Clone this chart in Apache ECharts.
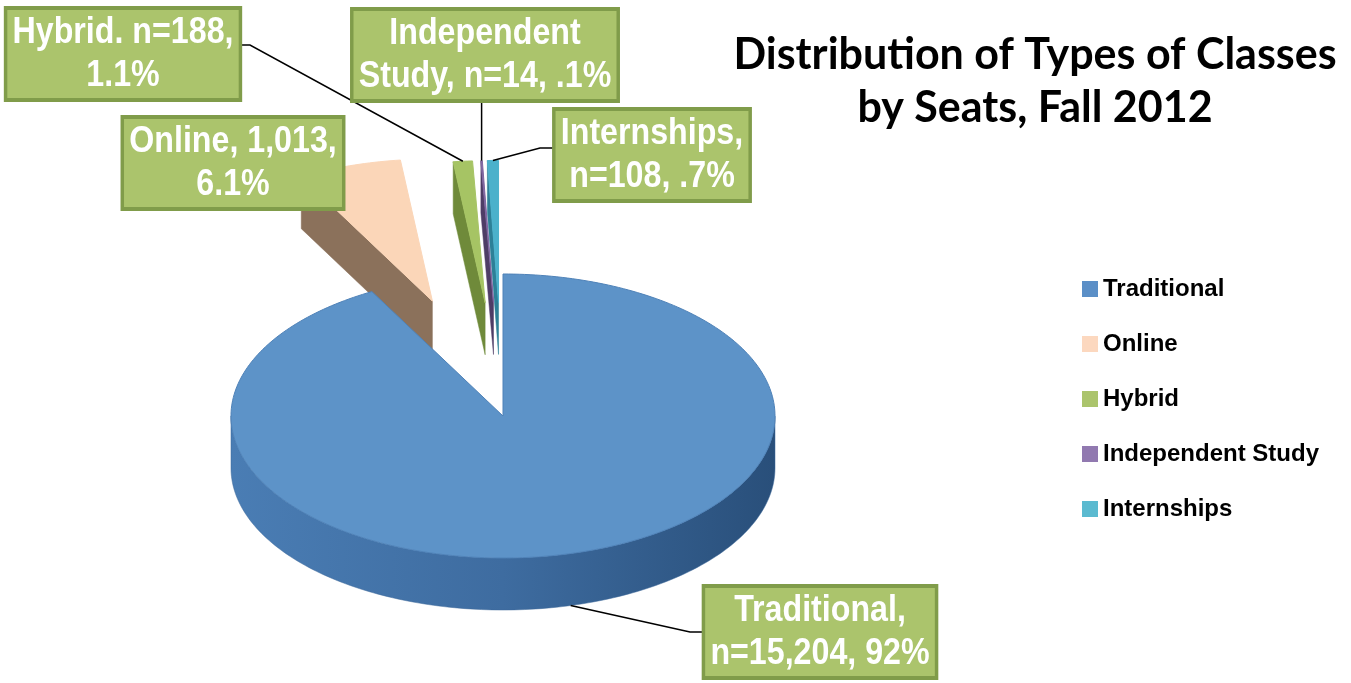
<!DOCTYPE html>
<html>
<head>
<meta charset="utf-8">
<script src="https://cdn.jsdelivr.net/npm/echarts@6/dist/echarts.min.js"></script>
<style>
  html, body { margin: 0; padding: 0; background: #fff; }
  #main { width: 1351px; height: 683px; }
</style>
</head>
<body>
<div id="main"></div>
<script>
// data
const categories = ['Traditional', 'Online', 'Hybrid', 'Independent Study', 'Internships'];
const seats = [15204, 1013, 188, 14, 108];
const labelTexts = [
  'Traditional,\nn=15,204, 92%',
  'Online, 1,013,\n6.1%',
  'Hybrid. n=188,\n1.1%',
  'Independent\nStudy, n=14, .1%',
  'Internships,\nn=108, .7%'
];

// layout / style
const PIE = { cx: 503, cy: 416, rx: 272, ry: 142, depth: 52 };
const explode = [0, 0.85, 0.8, 0.8, 0.8];
const topColors = ['#5d93c8', '#fbd6b8', '#a6c464', '#7f66a0', '#4bb1cb'];
const sideColors = ['#3f6ea3', '#8b715b', '#6f8a3a', '#4e3d66', '#2d8097'];
const legendColors = ['#5b8fc7', '#fcd8bf', '#abc46c', '#9179b0', '#5bbad0'];
const labelPos = [[820, 632], [233, 163], [123, 54], [485, 55], [652, 155]];
// leader: anchor on slice (h: 0 top face, 1 bottom rim), then points toward the box
const leaders = [
  { h: 1, pts: [[690, 632], [708, 632]] },
  null,
  { h: 0, pts: [[250, 45], [238, 45]] },
  { h: 0, vertical: 103 },
  { h: 0, pts: [[540, 148], [558, 148]] }
];
const labelFont = '"Liberation Sans", Arial, sans-serif';

const total = seats.reduce((a, b) => a + b, 0);
const bounds = [];
let acc = 0;
seats.forEach(v => {
  const s = acc / total * Math.PI * 2;
  acc += v;
  bounds.push([s, acc / total * Math.PI * 2]);
});

function buildSlice(i) {
  const [a0, a1] = bounds[i];
  const mid = (a0 + a1) / 2;
  const ox = explode[i] * Math.sin(mid);
  const oy = explode[i] * Math.cos(mid);
  const P = (t, r, h) => [
    PIE.cx + PIE.rx * (r * Math.sin(t) + ox),
    PIE.cy - PIE.ry * (r * Math.cos(t) + oy) + PIE.depth * h
  ];
  const arc = (t0, t1, h) => {
    const n = Math.max(2, Math.ceil((t1 - t0) / 0.02));
    const pts = [];
    for (let k = 0; k <= n; k++) pts.push(P(t0 + (t1 - t0) * k / n, 1, h));
    return pts;
  };
  const base = i === 0 ? 20 : 2;
  const children = [];
  const wallFill = i === 0
    ? new echarts.graphic.LinearGradient(0, 0, 1, 0, [
        { offset: 0, color: '#4a7db4' },
        { offset: 0.5, color: '#3e6ca0' },
        { offset: 1, color: '#294f7a' }
      ])
    : sideColors[i];

  // outer wall (front half only)
  const w0 = Math.max(a0, Math.PI / 2), w1 = Math.min(a1, Math.PI * 1.5);
  if (w1 > w0) {
    children.push({
      type: 'polygon', z2: base,
      shape: { points: arc(w0, w1, 0).concat(arc(w0, w1, 1).reverse()) },
      style: { fill: wallFill, stroke: i === 0 ? '#3a6798' : sideColors[i], lineWidth: 0.5 }
    });
  }
  // radial walls that face the viewer
  if (Math.sin(a0) < -1e-6) {
    children.push({
      type: 'polygon', z2: base,
      shape: { points: [P(a0, 0, 0), P(a0, 1, 0), P(a0, 1, 1), P(a0, 0, 1)] },
      style: { fill: sideColors[i], stroke: sideColors[i], lineWidth: 0.5 }
    });
  }
  if (Math.sin(a1) > 1e-6) {
    children.push({
      type: 'polygon', z2: base,
      shape: { points: [P(a1, 0, 0), P(a1, 1, 0), P(a1, 1, 1), P(a1, 0, 1)] },
      style: { fill: sideColors[i], stroke: sideColors[i], lineWidth: 0.5 }
    });
  }
  // top face
  children.push({
    type: 'polygon', z2: base + 1,
    shape: { points: [P(mid, 0, 0)].concat(arc(a0, a1, 0)) },
    style: { fill: topColors[i], stroke: i === 0 ? '#4f82b8' : topColors[i], lineWidth: 1 }
  });

  // leader line
  const ld = leaders[i];
  if (ld) {
    const anchor = P(mid, 1, ld.h);
    const pts = ld.vertical != null ? [anchor, [anchor[0], ld.vertical]] : [anchor].concat(ld.pts);
    children.push({
      type: 'polyline', z2: 90,
      shape: { points: pts },
      style: { stroke: '#000', lineWidth: 1.5, fill: null }
    });
  }
  // label box (narrowed to mimic a condensed face)
  children.push({
    type: 'text', z2: 100,
    x: labelPos[i][0], y: labelPos[i][1],
    scaleX: 0.87,
    style: {
      text: labelTexts[i],
      fill: '#fff',
      fontSize: 37,
      fontWeight: 'bold',
      fontFamily: labelFont,
      lineHeight: 43,
      align: 'center',
      verticalAlign: 'middle',
      backgroundColor: '#abc46c',
      borderColor: '#809c4a',
      borderWidth: 4,
      padding: [1, 6]
    }
  });
  return { type: 'group', children };
}

const chart = echarts.init(document.getElementById('main'), null, { renderer: 'canvas' });

const series = categories.map((name, i) => ({
  type: 'custom',
  name,
  coordinateSystem: 'none',
  itemStyle: { color: legendColors[i] },
  silent: true,
  data: [seats[i]],
  renderItem: () => buildSlice(i)
}));

chart.setOption({
  backgroundColor: '#fff',
  animation: false,
  title: {
    text: 'Distribution of Types of Classes\nby Seats, Fall 2012',
    left: 1030,
    top: 24,
    textAlign: 'center',
    textStyle: {
      fontFamily: 'Lato, "Open Sans", sans-serif',
      fontWeight: 'bold',
      fontSize: 43,
      lineHeight: 53,
      color: '#000'
    }
  },
  legend: {
    orient: 'vertical',
    left: 1077,
    top: 272,
    icon: 'rect',
    itemWidth: 16,
    itemHeight: 16,
    itemGap: 31,
    selectedMode: false,
    data: categories,
    textStyle: {
      fontFamily: labelFont,
      fontWeight: 'bold',
      fontSize: 24,
      lineHeight: 23,
      color: '#000'
    }
  },
  series
});
</script>
</body>
</html>
